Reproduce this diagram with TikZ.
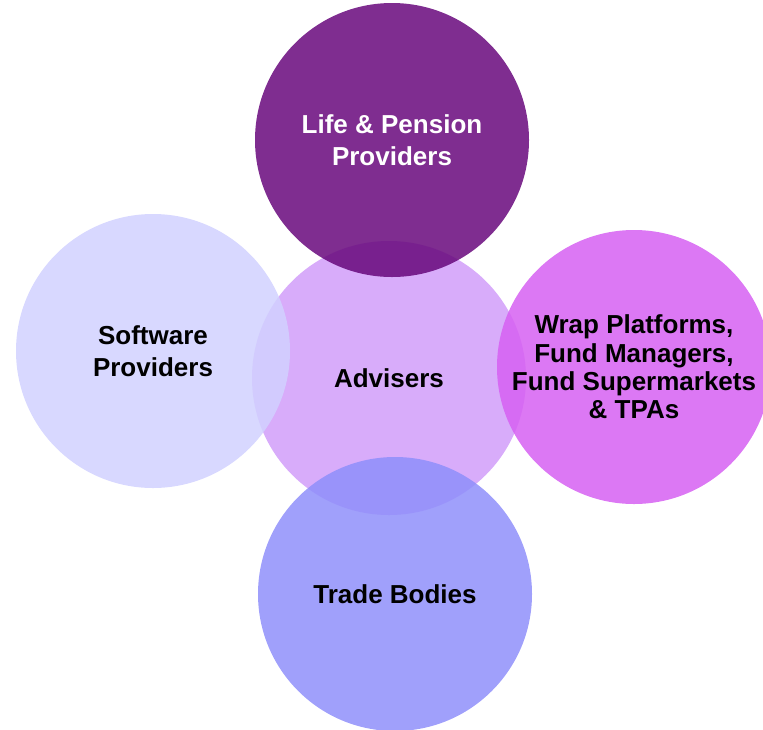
\documentclass[tikz,border=0pt]{standalone}
\usepackage{fontspec}
\setmainfont{Liberation Sans}
\definecolor{advcol}{RGB}{216,172,250}
\definecolor{lifecol}{RGB}{104,8,124}
\definecolor{softcol}{RGB}{209,209,255}
\definecolor{wrapcol}{RGB}{214,96,242}
\definecolor{tradecol}{RGB}{143,143,250}
\begin{document}
\begin{tikzpicture}[x=1pt,y=-1pt,font=\fontsize{26}{31.5}\bfseries\selectfont,
	bubble/.style={circle,minimum size=274pt,inner sep=0pt,align=center,fill opacity=0.85,text opacity=1}]
	\useasboundingbox (0,0) rectangle (763,729);
	\node[bubble,fill=advcol,fill opacity=1] (adv) at (389,378) {Advisers};
	\node[bubble,fill=lifecol,text=white] (life) at (392,140) {Life \& Pension\\Providers};
	\node[bubble,fill=softcol] (soft) at (153,351) {Software\\Providers};
	\node[bubble,fill=wrapcol,font=\fontsize{26}{28.4}\bfseries\selectfont] (wrap) at (634,367) {Wrap Platforms,\\Fund Managers,\\Fund Supermarkets\\\& TPAs};
	\node[bubble,fill=tradecol] (trade) at (395,594) {Trade Bodies};
\end{tikzpicture}
\end{document}
